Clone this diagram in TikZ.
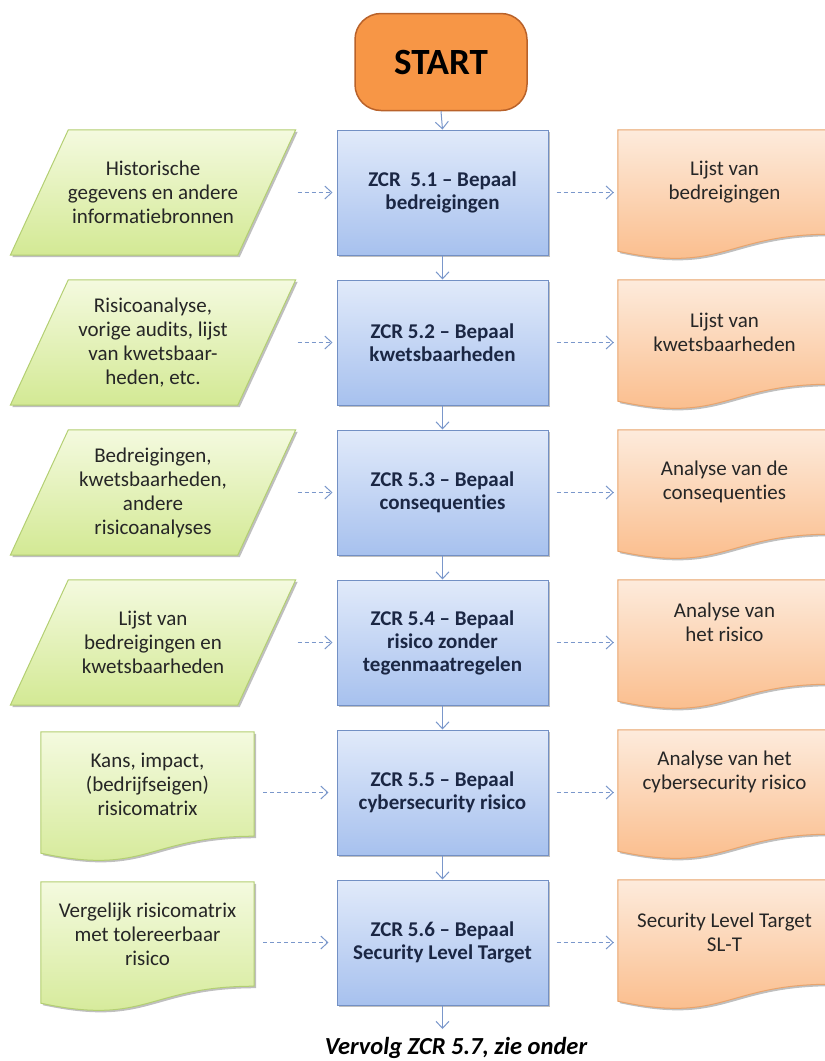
\documentclass[tikz,border=0pt]{standalone}
\usepackage{fontspec}
\setmainfont{Carlito}[Ligatures=NoCommon]
\usetikzlibrary{calc,arrows.meta,shadows,backgrounds}

\definecolor{blueTop}{HTML}{E1EAFA}
\definecolor{blueBot}{HTML}{A7C1EE}
\definecolor{blueLine}{HTML}{7390C4}
\definecolor{greenTop}{HTML}{F4FADF}
\definecolor{greenBot}{HTML}{D3E994}
\definecolor{greenLine}{HTML}{B3CF72}
\definecolor{orangeTop}{HTML}{FDEBDC}
\definecolor{orangeBot}{HTML}{FAB985}
\definecolor{orangeLine}{HTML}{E9A46C}
\definecolor{startFill}{HTML}{F79646}
\definecolor{startLine}{HTML}{B9622A}
\definecolor{arrowBlue}{HTML}{7A97CB}
\definecolor{navyText}{HTML}{1B2744}
\definecolor{inkText}{HTML}{262626}

% outline of a parallelogram round a text node
\newcommand{\paraShape}[1]{\path[greenshape] ($(#1.north west)+(29,0)$) -- ($(#1.north east)+(29,0)$)
  -- ($(#1.south east)+(-29,0)$) -- ($(#1.south west)+(-29,0)$) -- cycle;}
% outline of a document (wavy bottom) round a text node
\newcommand{\docShape}[2]{\path[#2] (#1.north west) -- (#1.north east) -- (#1.south east)
  .. controls ($(#1.south west)!0.5!(#1.south east)$) and ($(#1.south west)!0.5!(#1.south east)+(0,40)$)
  .. ($(#1.south west)+(0,17)$) -- cycle;}

\begin{document}
\begin{tikzpicture}[x=1pt, y=-1pt,
  every node/.style={font=\fontsize{21}{24}\selectfont, text=inkText, align=center},
  softshadow/.style={drop shadow={shadow xshift=2pt, shadow yshift=-2pt, opacity=0.25, fill=black}},
  startbox/.style={rectangle, rounded corners=26pt, draw=startLine, line width=1.5pt, fill=startFill,
    minimum width=172pt, minimum height=97pt, font=\bfseries\fontsize{37}{40}\selectfont, text=black},
  procbox/.style={rectangle, draw=blueLine, line width=1pt, top color=blueTop, bottom color=blueBot,
    minimum width=211pt, minimum height=125pt, softshadow,
    font=\bfseries\fontsize{21}{23}\selectfont, text=navyText},
  inbox/.style={rectangle, minimum width=227pt, minimum height=125pt, inner sep=0pt},
  docbox/.style={rectangle, minimum width=213pt, minimum height=104pt, inner sep=0pt},
  greenshape/.style={draw=greenLine, line width=1pt, top color=greenTop, bottom color=greenBot, softshadow},
  orangeshape/.style={draw=orangeLine, line width=1pt, top color=orangeTop, bottom color=orangeBot, softshadow},
  flow/.style={draw=arrowBlue, line width=1pt, -{Straight Barb[length=7pt, width=13pt]}},
  feed/.style={flow, dash pattern=on 4pt off 3pt}]

\useasboundingbox (0,0) rectangle (825,1061);

\node[startbox] (start) at (441,62) {START};

% main process column
\foreach \i/\txt in {1/{ZCR\ \ 5.1 -- Bepaal\\bedreigingen},
                     2/{ZCR 5.2 -- Bepaal\\kwetsbaarheden},
                     3/{ZCR 5.3 -- Bepaal\\consequenties},
                     4/{ZCR 5.4 -- Bepaal\\risico zonder\\tegenmaatregelen},
                     5/{ZCR 5.5 -- Bepaal\\cybersecurity risico},
                     6/{ZCR 5.6 -- Bepaal\\Security Level Target}} {
    \node[procbox] (b\i) at (442.5, {192.5+150*(\i-1)}) {\txt};
}
\draw[flow] (start.south) -- (b1.north);
\foreach \i in {1,...,5} {
    \pgfmathtruncatemacro{\next}{\i+1}
    \draw[flow] (b\i.south) -- (b\next.north);
}

% inputs
\foreach \i/\txt in {1/{Historische\\gegevens en andere\\informatiebronnen},
                     2/{Risicoanalyse,\\vorige audits, lijst\\van kwetsbaar-\\heden, etc.},
                     3/{Bedreigingen,\\kwetsbaarheden,\\andere\\risicoanalyses},
                     4/{Lijst van\\bedreigingen en\\kwetsbaarheden}} {
    \node[inbox] (in\i) at (153, {192.5+150*(\i-1)}) {\txt};
    \begin{pgfonlayer}{background}
        \paraShape{in\i}
    \end{pgfonlayer}
    \draw[feed, shorten <=31pt, shorten >=4pt] (in\i.east) -- (b\i.west);
}
\foreach \i/\txt in {5/{Kans, impact,\\(bedrijfseigen)\\risicomatrix},
                     6/{Vergelijk risicomatrix\\met tolereerbaar\\risico}} {
    \node[docbox] (in\i) at (147.5, {184+150*(\i-1)}) {\txt};
    \begin{pgfonlayer}{background}
        \docShape{in\i}{greenshape}
    \end{pgfonlayer}
    \draw[feed, shorten <=9pt, shorten >=8pt] (in\i.east |- b\i.west) -- (b\i.west);
}

% outputs
\foreach \i/\dy/\txt in {1/52/{Lijst van\\bedreigingen},
                         2/52/{Lijst van\\kwetsbaarheden},
                         3/52/{Analyse van de\\consequenties},
                         4/42/{Analyse van\\het risico},
                         5/42/{Analyse van het\\cybersecurity risico},
                         6/52/{Security Level Target\\SL-T}} {
    \node[docbox] (out\i) at (724.5, {130+\dy+150*(\i-1)}) {\txt};
    \begin{pgfonlayer}{background}
        \path[orangeshape] ($(out\i.north west)+(0,52-\dy)$) -- ($(out\i.north east)+(0,52-\dy)$)
          -- ($(out\i.south east)+(0,52-\dy)$)
          .. controls ($(out\i.south west)!0.5!(out\i.south east)+(0,52-\dy)$)
          and ($(out\i.south west)!0.5!(out\i.south east)+(0,92-\dy)$)
          .. ($(out\i.south west)+(0,69-\dy)$) -- cycle;
    \end{pgfonlayer}
    \draw[feed, shorten <=8pt, shorten >=4pt] (b\i.east) -- (b\i.east -| out\i.west);
}

\coordinate (next) at (442.5,1029);
\draw[flow] (b6.south) -- (next);
\node[font=\bfseries\itshape\fontsize{24.5}{28}\selectfont, text=black] (vervolg) at (456,1048) {Vervolg ZCR 5.7, zie onder};

\end{tikzpicture}
\end{document}
